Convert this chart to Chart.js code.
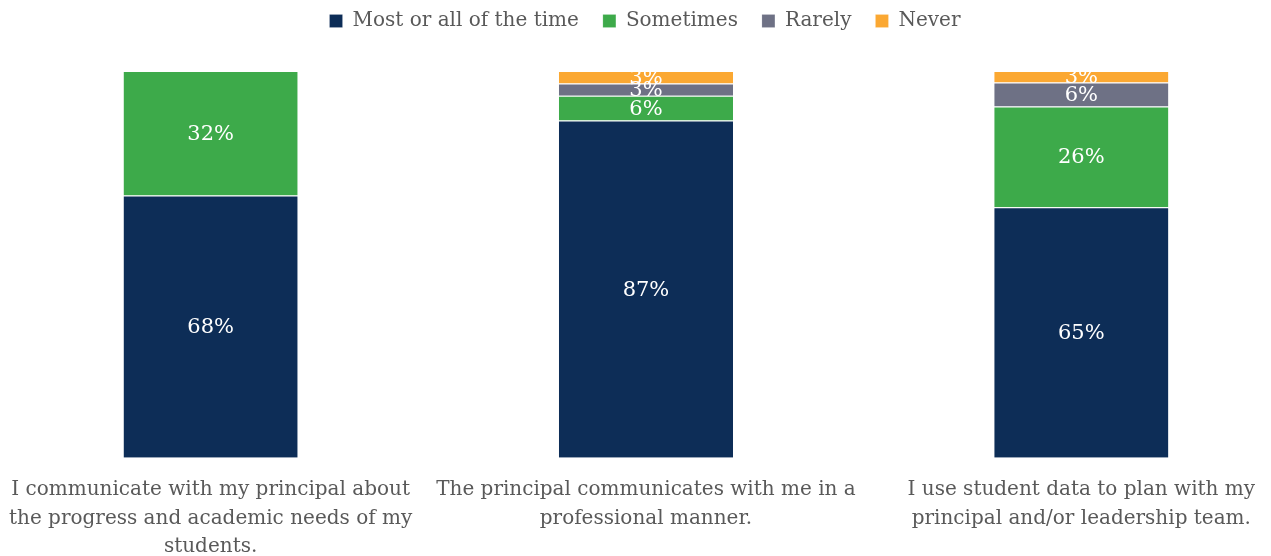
<!DOCTYPE html>
<html>
<head>
<meta charset="utf-8">
<script src="https://cdn.jsdelivr.net/npm/chart.js@4"></script>
<style>
    html, body { margin: 0; padding: 0; background: #ffffff; overflow: hidden; }
    body { width: 1271px; height: 556px; position: relative; }
    /* plot is a little wider than the window, like the original */
    #wrap { position: absolute; left: -9px; top: -13px; width: 1308px; height: 592px; }
</style>
</head>
<body>
<div id="wrap"><canvas id="surveyChart"></canvas></div>
<script>
const categories = [
    ["I communicate with my principal about", "the progress and academic needs of my", "students."],
    ["The principal communicates with me in a", "professional manner."],
    ["I use student data to plan with my", "principal and/or leadership team."]
];
const seriesNames = ["Most or all of the time", "Sometimes", "Rarely", "Never"];
const mostValues = [67.8, 87.2, 64.8];
const sometimesValues = [32.2, 6.4, 26.0];
const rarelyValues = [0, 3.2, 6.2];
const neverValues = [0, 3.2, 3.0];
const seriesColors = ["#0d2d57", "#3daa4a", "#6e7185", "#fba832"];

const serif = "'DejaVu Serif', 'Liberation Serif', serif";

// white percentage labels in the middle of each segment
const segmentLabels = {
    id: "segmentLabels",
    afterDatasetsDraw(chart) {
        const ctx = chart.ctx;
        ctx.save();
        ctx.fillStyle = "#ffffff";
        ctx.font = "21px " + serif;
        ctx.textAlign = "center";
        ctx.textBaseline = "middle";
        chart.data.datasets.forEach((ds, i) => {
            chart.getDatasetMeta(i).data.forEach((bar, j) => {
                const v = ds.data[j];
                if (!v) return;
                const mid = (bar.y + bar.base) / 2;
                ctx.fillText(Math.round(v) + "%", bar.x, mid + 1);
            });
        });
        ctx.restore();
    }
};

// extra room under the legend
const legendGap = {
    id: "legendGap",
    beforeInit(chart) {
        const fit = chart.legend.fit;
        chart.legend.fit = function () {
            fit.bind(chart.legend)();
            this.height += 30;
        };
    }
};

const datasets = [mostValues, sometimesValues, rarelyValues, neverValues].map((vals, i) => ({
    label: seriesNames[i],
    data: vals,
    backgroundColor: seriesColors[i],
    borderColor: "rgba(255,255,255,0.6)",
    borderWidth: { top: 1, bottom: 0, left: 0, right: 0 },
    borderSkipped: false,
    barPercentage: 0.4,
    categoryPercentage: 1.0
}));

new Chart(document.getElementById("surveyChart"), {
    type: "bar",
    data: { labels: categories, datasets: datasets },
    plugins: [segmentLabels, legendGap],
    options: {
        responsive: true,
        maintainAspectRatio: false,
        animation: false,
        layout: { padding: 0 },
        plugins: {
            tooltip: { enabled: false },
            legend: {
                position: "top",
                labels: {
                    color: "#595959",
                    font: { family: serif, size: 20 },
                    boxWidth: 13,
                    boxHeight: 13,
                    padding: 24
                }
            }
        },
        scales: {
            x: {
                stacked: true,
                grid: { display: false, drawTicks: false },
                border: { display: false },
                ticks: {
                    color: "#595959",
                    font: { family: serif, size: 20, lineHeight: 1.42 },
                    padding: 18,
                    maxRotation: 0,
                    autoSkip: false
                }
            },
            y: {
                stacked: true,
                min: 0,
                max: 100,
                display: false
            }
        }
    }
});
</script>
</body>
</html>
